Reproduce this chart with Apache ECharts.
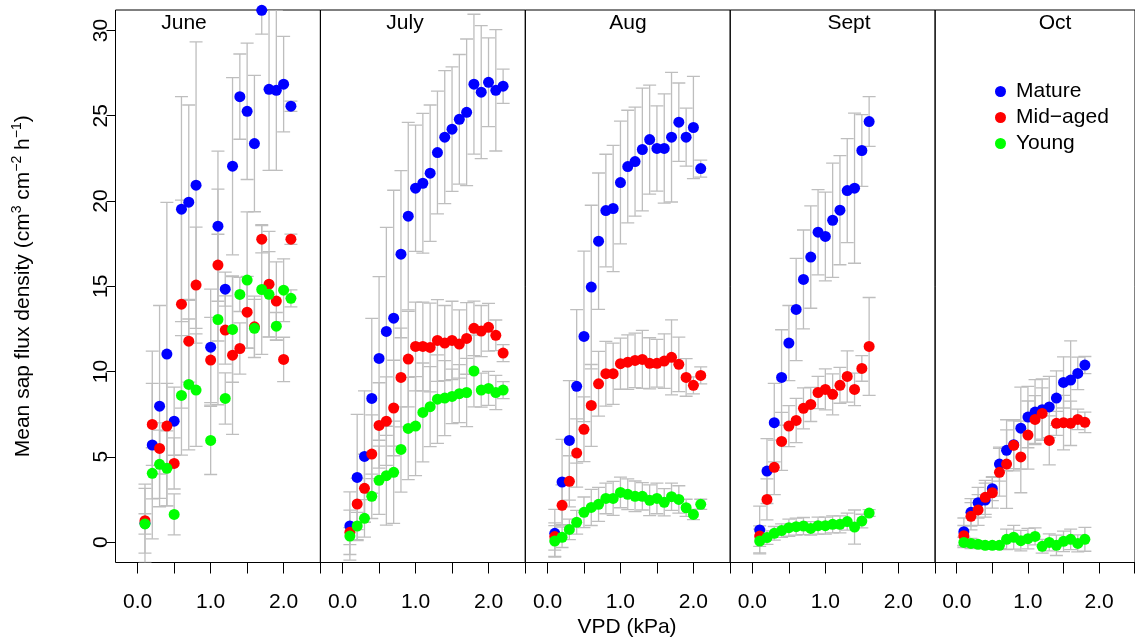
<!DOCTYPE html>
<html>
<head>
<meta charset="utf-8">
<script src="https://cdn.jsdelivr.net/npm/echarts@6/dist/echarts.min.js"></script>
<style>
html, body { margin: 0; padding: 0; background: #fff; }
#chart { width: 1135px; height: 639px; }
</style>
</head>
<body>
<div id="chart"></div>
<script>
// months and age classes
var months = ['June', 'July', 'Aug', 'Sept', 'Oct'];
var groups = ['Mature', 'Mid\u2212aged', 'Young'];
var colors = ['#0000ff', '#ff0000', '#00ff00'];
var xTicks = [0, 0.5, 1, 1.5, 2, 2.5];
var xLabels = [0, 1, 2];
var yTicks = [0, 5, 10, 15, 20, 25, 30];

// June (no 0.9 class)
var vpdJune = [0.1, 0.2, 0.3, 0.4, 0.5, 0.6, 0.7, 0.8, 1.0, 1.1, 1.2, 1.3, 1.4, 1.5, 1.6, 1.7, 1.8, 1.9, 2.0, 2.1];
var matureJune = [1.1, 5.69, 7.97, 11.02, 7.09, 19.52, 19.93, 20.93, 11.43, 18.52, 14.83, 22.04, 26.12, 25.26, 23.37, 31.18, 26.55, 26.49, 26.85, 25.56];
var matureJuneSE = [2.3, 5.5, 5.9, 8.9, 2.0, 6.6, 5.7, 8.4, 3.4, 4.4, 1.0, 5.2, 2.5, 4.0, 4.0, 1.4, 4.75, 4.7, 2.8, 0.3];
var midJune = [1.25, 6.9, 5.49, 6.8, 4.61, 13.95, 11.78, 15.07, 10.67, 16.24, 12.43, 10.96, 11.35, 13.48, 12.62, 17.76, 15.12, 14.13, 10.71, 17.76];
var midJuneSE = [1.9, 2.4, 1.5, 2.5, 1.5, 6.1, 2.4, 3.4, 2.5, 4.45, 2.0, 4.65, 1.5, 2.1, 1.8, 0.8, 3.1, 2.3, 1.3, 0.3];
var youngJune = [1.06, 4.03, 4.56, 4.32, 1.62, 8.6, 9.24, 8.91, 5.96, 13.05, 8.42, 12.47, 14.52, 15.36, 12.53, 14.81, 14.53, 12.66, 14.77, 14.29];
var youngJuneSE = [0.6, 1.5, 2.0, 2.2, 1.2, 3.5, 3.84, 3.3, 2.0, 5.0, 1.5, 3.1, 1.0, 4.0, 1.7, 3.8, 2.5, 0.8, 1.84, 0.5];

// July
var vpdJuly = [0.1, 0.2, 0.3, 0.4, 0.5, 0.6, 0.7, 0.8, 0.9, 1.0, 1.1, 1.2, 1.3, 1.4, 1.5, 1.6, 1.7, 1.8, 1.9, 2.0, 2.1, 2.2];
var matureJuly = [0.94, 3.79, 5.02, 8.42, 10.77, 12.35, 13.13, 16.88, 19.11, 20.75, 21.04, 21.63, 22.84, 23.74, 24.21, 24.79, 25.2, 26.85, 26.38, 26.96, 26.49, 26.73];
var matureJulySE = [2.0, 3.7, 3.85, 4.7, 4.8, 6.1, 7.5, 4.9, 5.5, 3.7, 4.1, 4.0, 3.6, 3.9, 3.65, 3.8, 4.3, 4.1, 3.9, 2.6, 3.56, 1.0];
var midJuly = [0.57, 2.23, 3.15, 5.16, 6.84, 7.09, 7.86, 9.65, 10.73, 11.47, 11.47, 11.41, 11.82, 11.67, 11.82, 11.61, 11.94, 12.53, 12.37, 12.59, 12.12, 11.08];
var midJulySE = [1.3, 1.5, 2.0, 2.3, 2.5, 2.6, 2.8, 2.9, 2.8, 2.6, 2.6, 2.6, 2.4, 2.2, 2.3, 2.0, 2.1, 1.6, 1.5, 1.4, 0.9, 0.5];
var youngJuly = [0.35, 0.94, 1.39, 2.68, 3.62, 3.89, 4.09, 5.43, 6.66, 6.8, 7.6, 7.94, 8.38, 8.44, 8.54, 8.7, 8.77, 10.03, 8.91, 9.01, 8.77, 8.91];
var youngJulySE = [0.5, 0.8, 1.1, 1.3, 2.0, 2.9, 3.0, 2.5, 3.0, 2.9, 2.9, 2.35, 2.6, 2.2, 1.6, 1.7, 2.0, 2.1, 1.0, 1.0, 1.0, 0.5];

// Aug
var vpdAug = [0.1, 0.2, 0.3, 0.4, 0.5, 0.6, 0.7, 0.8, 0.9, 1.0, 1.1, 1.2, 1.3, 1.4, 1.5, 1.6, 1.7, 1.8, 1.9, 2.0, 2.1];
var matureAug = [0.51, 3.52, 5.96, 9.13, 12.06, 14.95, 17.64, 19.44, 19.56, 21.08, 22.02, 22.31, 23.02, 23.6, 23.08, 23.08, 23.74, 24.62, 23.74, 24.31, 21.9];
var matureAugSE = [1.4, 2.5, 3.5, 4.5, 5.0, 4.8, 4.0, 3.3, 3.7, 3.6, 3.3, 3.2, 3.6, 3.2, 2.5, 3.2, 3.8, 2.3, 1.7, 3.0, 0.5];
var midAug = [0.32, 2.15, 3.56, 5.22, 6.61, 8.01, 9.28, 9.87, 9.87, 10.46, 10.55, 10.65, 10.71, 10.48, 10.48, 10.61, 10.83, 10.42, 9.65, 9.19, 9.77];
var midAugSE = [0.8, 1.2, 1.5, 2.0, 1.9, 2.4, 1.9, 1.9, 1.8, 1.5, 1.6, 1.6, 1.7, 1.5, 1.4, 1.6, 2.2, 1.6, 1.1, 0.5, 0.5];
var youngAug = [0.06, 0.28, 0.74, 1.16, 1.74, 2.03, 2.21, 2.56, 2.56, 2.91, 2.8, 2.68, 2.68, 2.45, 2.56, 2.33, 2.66, 2.5, 2.01, 1.62, 2.21];
var youngAugSE = [0.9, 0.6, 0.6, 0.7, 0.9, 1.06, 1.0, 0.9, 1.0, 0.9, 0.9, 0.9, 0.8, 0.9, 0.9, 0.8, 0.8, 0.8, 0.5, 0.3, 0.3];

// Sept
var vpdSept = [0.1, 0.2, 0.3, 0.4, 0.5, 0.6, 0.7, 0.8, 0.9, 1.0, 1.1, 1.2, 1.3, 1.4, 1.5, 1.6];
var matureSept = [0.71, 4.16, 7.0, 9.65, 11.67, 13.64, 15.4, 16.71, 18.17, 17.92, 18.87, 19.46, 20.61, 20.75, 22.96, 24.66];
var matureSeptSE = [1.4, 1.9, 2.3, 2.8, 2.2, 3.0, 2.9, 3.0, 2.5, 2.6, 3.35, 3.2, 3.05, 4.4, 2.1, 1.46];
var midSept = [0.35, 2.5, 4.38, 5.9, 6.8, 7.13, 7.84, 8.07, 8.77, 8.95, 8.66, 9.19, 9.71, 8.95, 10.18, 11.47];
var midSeptSE = [0.6, 1.2, 1.6, 1.7, 1.2, 1.3, 1.2, 1.0, 0.95, 1.2, 1.2, 1.05, 1.5, 0.95, 0.75, 2.87];
var youngSept = [0.06, 0.26, 0.51, 0.67, 0.84, 0.9, 0.94, 0.8, 0.96, 0.96, 1.04, 1.04, 1.2, 0.88, 1.23, 1.7];
var youngSeptSE = [0.7, 0.4, 0.4, 0.4, 0.5, 0.5, 0.5, 0.4, 0.5, 0.5, 0.5, 0.5, 0.5, 1.0, 0.4, 0.2];

// Oct
var vpdOct = [0.1, 0.2, 0.3, 0.4, 0.5, 0.6, 0.7, 0.8, 0.9, 1.0, 1.1, 1.2, 1.3, 1.4, 1.5, 1.6, 1.7, 1.8];
var matureOct = [0.61, 1.74, 2.31, 2.46, 3.13, 4.57, 5.38, 5.71, 6.68, 7.33, 7.62, 7.76, 7.92, 8.44, 9.36, 9.5, 9.89, 10.38];
var matureOctSE = [0.8, 0.8, 0.9, 1.0, 0.7, 1.0, 1.2, 1.4, 2.4, 1.8, 1.9, 1.8, 1.8, 1.6, 1.5, 2.3, 0.95, 0.5];
var midOct = [0.37, 1.51, 1.88, 2.62, 2.89, 4.09, 4.57, 5.67, 4.99, 6.27, 7.19, 7.54, 5.96, 6.96, 7.0, 6.96, 7.19, 7.02];
var midOctSE = [0.6, 0.8, 0.9, 1.0, 0.9, 1.4, 2.6, 1.5, 2.1, 2.0, 1.4, 1.5, 1.44, 0.7, 1.6, 1.3, 0.6, 0.6];
var youngOct = [-0.02, -0.08, -0.13, -0.19, -0.19, -0.19, 0.16, 0.28, 0.08, 0.2, 0.33, -0.25, -0.02, -0.19, 0.04, 0.16, -0.08, 0.16];
var youngOctSE = [0.3, 0.3, 0.2, 0.2, 0.2, 0.2, 0.6, 0.7, 0.6, 0.6, 0.5, 0.4, 0.5, 0.6, 0.6, 0.6, 0.5, 0.7];

var vpd = [vpdJune, vpdJuly, vpdAug, vpdSept, vpdOct];
var means = [
  [matureJune, midJune, youngJune],
  [matureJuly, midJuly, youngJuly],
  [matureAug, midAug, youngAug],
  [matureSept, midSept, youngSept],
  [matureOct, midOct, youngOct]
];
var ses = [
  [matureJuneSE, midJuneSE, youngJuneSE],
  [matureJulySE, midJulySE, youngJulySE],
  [matureAugSE, midAugSE, youngAugSE],
  [matureSeptSE, midSeptSE, youngSeptSE],
  [matureOctSE, midOctSE, youngOctSE]
];

var FONT = 'Liberation Sans, Arial, sans-serif';
var FS = 21;
var panelW = 204.9, panelLeft = 115.5, panelTop = 10, panelH = 552.5;
var titleX = [184, 405, 628, 849, 1055];

function errorBar(params, api) {
  var x = api.value(0);
  var lo = api.coord([x, api.value(1)]);
  var hi = api.coord([x, api.value(2)]);
  var w = 6.5;
  var st = { stroke: '#bebebe', lineWidth: 1.3 };
  return {
    type: 'group',
    children: [
      { type: 'line', shape: { x1: lo[0], y1: lo[1], x2: hi[0], y2: hi[1] }, style: st },
      { type: 'line', shape: { x1: lo[0] - w, y1: lo[1], x2: lo[0] + w, y2: lo[1] }, style: st },
      { type: 'line', shape: { x1: hi[0] - w, y1: hi[1], x2: hi[0] + w, y2: hi[1] }, style: st }
    ]
  };
}

var grids = [], xAxes = [], yAxes = [], series = [], texts = [];
for (var m = 0; m < months.length; m++) {
  grids.push({
    left: panelLeft + panelW * m, top: panelTop, width: panelW, height: panelH,
    show: true, borderColor: '#000', borderWidth: 1, backgroundColor: 'transparent'
  });
  xAxes.push({
    type: 'value', gridIndex: m, min: -0.304, max: 2.504,
    axisLine: { show: false, onZero: false },
    axisTick: { show: true, length: 11, customValues: xTicks, lineStyle: { color: '#000' } },
    axisLabel: {
      customValues: xLabels, margin: 29, fontSize: FS, fontFamily: FONT, color: '#000',
      formatter: function (v) { return v.toFixed(1); }
    },
    splitLine: { show: false }
  });
  var y = {
    type: 'value', gridIndex: m, min: -1.2, max: 31.2,
    axisLine: { show: false, onZero: false },
    axisTick: { show: m === 0, length: 9, customValues: yTicks, lineStyle: { color: '#000' } },
    axisLabel: { show: m === 0, customValues: yTicks, rotate: 90, margin: 4, fontSize: FS, fontFamily: FONT, color: '#000' },
    splitLine: { show: false }
  };
  if (m === 0) {
    y.name = 'Mean sap flux density (cm{sup|3} cm{sup|\u22122} h{sup|\u22121})';
    y.nameLocation = 'middle';
    y.nameRotate = 90;
    y.nameGap = 80;
    y.nameTextStyle = {
      fontSize: FS, fontFamily: FONT, color: '#000', lineHeight: 25,
      rich: { sup: { fontSize: 14, fontFamily: FONT, color: '#000', verticalAlign: 'top', lineHeight: 25 } }
    };
  }
  yAxes.push(y);

  for (var g = 0; g < groups.length; g++) {
    (function (m, g) {
      series.push({
        type: 'custom', xAxisIndex: m, yAxisIndex: m, silent: true, clip: true, z: 2,
        renderItem: errorBar,
        encode: { x: 0, y: [1, 2] },
        data: vpd[m].map(function (x, k) {
          return [x, means[m][g][k] - ses[m][g][k], means[m][g][k] + ses[m][g][k]];
        })
      });
    })(m, g);
  }
  for (var g2 = 0; g2 < groups.length; g2++) {
    (function (m, g) {
      series.push({
        name: groups[g], type: 'scatter', xAxisIndex: m, yAxisIndex: m, clip: true, z: 3,
        symbol: 'circle', symbolSize: 11,
        itemStyle: { color: colors[g], opacity: 1 },
        data: vpd[m].map(function (x, k) { return [x, means[m][g][k]]; })
      });
    })(m, g2);
  }

  texts.push({
    type: 'text', x: titleX[m], y: 23, z: 10,
    style: { text: months[m], fill: '#000', font: FS + 'px ' + FONT, textAlign: 'center', textVerticalAlign: 'middle' }
  });
}
texts.push({
  type: 'text', x: 627, y: 627, z: 10,
  style: { text: 'VPD (kPa)', fill: '#000', font: FS + 'px ' + FONT, textAlign: 'center', textVerticalAlign: 'middle' }
});

var myChart = echarts.init(document.getElementById('chart'), null, { renderer: 'canvas' });
var option = {
  animation: false,
  backgroundColor: '#fff',
  grid: grids,
  xAxis: xAxes,
  yAxis: yAxes,
  legend: {
    data: groups, orient: 'vertical', left: 990, top: 76, selectedMode: false,
    icon: 'circle', itemWidth: 11, itemHeight: 11, itemGap: 5,
    textStyle: { fontSize: FS, fontFamily: FONT, color: '#000', padding: [0, 0, 0, 5] }
  },
  graphic: texts,
  series: series
};
myChart.setOption(option);
</script>
</body>
</html>
